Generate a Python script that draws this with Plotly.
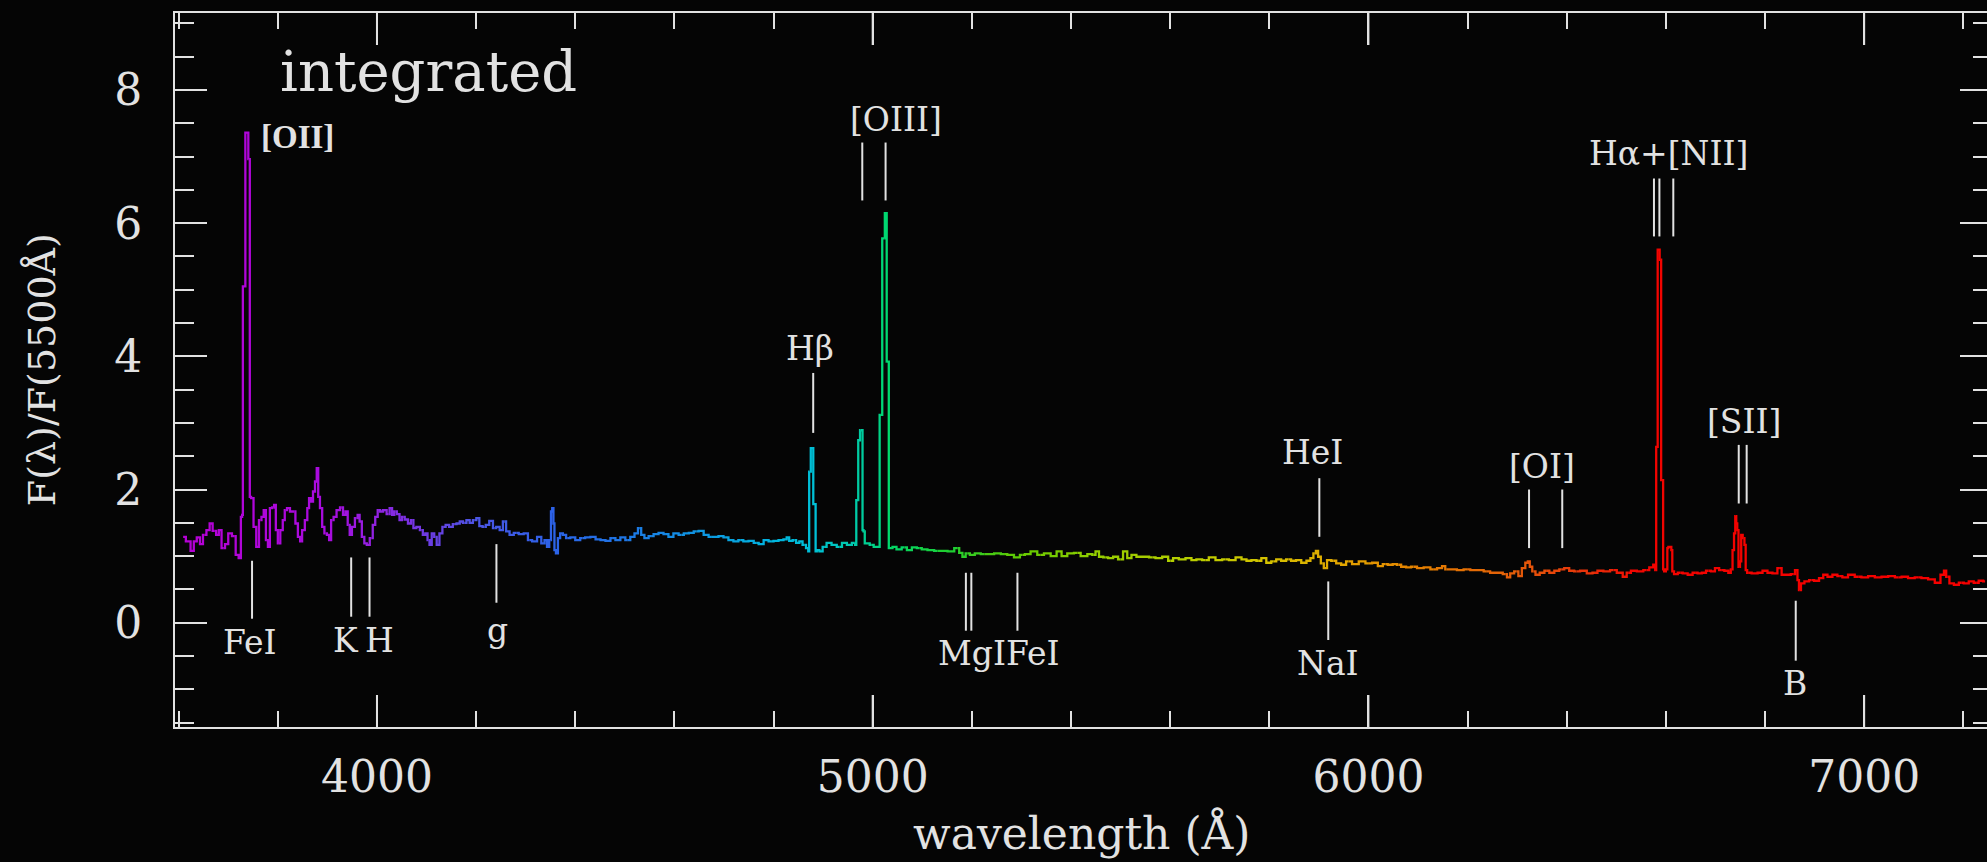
import plotly.graph_objects as go

# ---------------- data ----------------
wavelength = [
    3609, 3620, 3628, 3633, 3640, 3646, 3652, 3660, 3665, 3672, 3679, 3683, 3690, 3697, 3703, 3712,
    3718, 3724, 3727, 3729, 3730, 3734, 3735, 3740, 3741, 3743, 3744, 3748, 3754, 3759, 3765, 3769,
    3774, 3778, 3782, 3786, 3791, 3794, 3798, 3802, 3808, 3812, 3816, 3821, 3828, 3833, 3838, 3843,
    3847, 3851, 3858, 3861, 3865, 3869, 3873, 3877, 3880, 3883, 3887, 3892, 3896, 3902, 3905, 3910,
    3915, 3922, 3929, 3934, 3939, 3943, 3947, 3952, 3959, 3963, 3967, 3972, 3977, 3982, 3989, 3994,
    3999, 4004, 4009, 4016, 4023, 4028, 4033, 4037, 4043, 4048, 4053, 4059, 4066, 4071, 4076, 4083,
    4090, 4095, 4100, 4104, 4108, 4113, 4118, 4123, 4129, 4135, 4142, 4149, 4157, 4164, 4170, 4177,
    4184, 4190, 4197, 4204, 4209, 4217,
    4222, 4231, 4237, 4244, 4251, 4257, 4264, 4271, 4281, 4291, 4301, 4308, 4318, 4328, 4335, 4341,
    4345, 4350, 4352, 4355, 4357, 4359, 4363, 4367, 4372, 4378, 4385, 4395, 4405, 4415, 4425, 4436,
    4446, 4456, 4466, 4476, 4486, 4496, 4506, 4516, 4523, 4530, 4536, 4543, 4553, 4563, 4573, 4583,
    4593, 4603, 4614, 4624, 4634, 4644, 4654, 4664, 4674, 4684, 4694, 4704, 4714, 4724, 4734, 4744,
    4755, 4765, 4775, 4785, 4795, 4805, 4815, 4825,
    4828, 4835, 4842, 4849, 4855, 4862, 4869, 4871, 4872.8, 4874.8, 4875.4, 4879.5, 4880.8, 4884.2,
    4885.5, 4889, 4896, 4902, 4912, 4922, 4933, 4943, 4953, 4963, 4966, 4967.8, 4970.5, 4971.2, 4974,
    4975, 4979, 4980, 4983, 4985, 4990, 4998, 5006, 5013, 5015, 5019, 5019.5, 5024, 5025, 5028,
    5028.5, 5032, 5033, 5037, 5043, 5053, 5064, 5074, 5084, 5094, 5104, 5117, 5131, 5144, 5158, 5171,
    5178, 5184, 5191, 5201, 5211, 5225, 5238, 5252, 5265, 5278, 5292, 5302, 5312, 5325, 5339, 5352,
    5366, 5376, 5386, 5399, 5413, 5426, 5440, 5446,
    5453, 5460, 5470, 5480, 5490, 5500, 5510, 5517, 5527, 5537, 5551, 5564, 5577, 5591, 5601, 5611,
    5624, 5638, 5648, 5658, 5671, 5685, 5698, 5712, 5725, 5739, 5749, 5759, 5769, 5779, 5789, 5799,
    5809, 5819, 5829, 5839, 5849, 5859, 5870, 5880, 5886, 5892, 5896, 5901, 5907, 5913, 5920, 5930,
    5940, 5950, 5960, 5974, 5987, 6001, 6014, 6024, 6034, 6044, 6054, 6061,
    6071, 6081, 6091, 6105, 6118, 6132, 6145, 6152, 6158, 6172, 6185, 6199, 6212, 6226, 6239, 6252,
    6266, 6276, 6283, 6289, 6299, 6306, 6313, 6320, 6323, 6328, 6333, 6341, 6350, 6360, 6370, 6380,
    6390, 6400, 6410, 6420, 6434, 6447, 6457, 6467, 6481, 6494, 6508, 6518, 6524, 6535, 6548, 6561,
    6572, 6577, 6580, 6581, 6583, 6584, 6587, 6588, 6590, 6591, 6594, 6595, 6598, 6602, 6604, 6606,
    6610, 6612, 6614, 6619, 6629, 6639, 6649, 6659, 6669, 6676,
    6686, 6696, 6702, 6713, 6723, 6729, 6733, 6736, 6739, 6741, 6743, 6745, 6748, 6751, 6753, 6757,
    6760, 6762, 6766, 6780, 6790, 6800, 6810, 6820, 6830, 6837, 6847, 6857, 6864, 6867, 6870, 6875,
    6884, 6894, 6904, 6914, 6921, 6931, 6941, 6951, 6961, 6974, 6988, 7001, 7015, 7028, 7042, 7055,
    7069, 7082, 7095, 7109, 7122, 7136, 7149, 7159, 7163, 7168, 7176, 7186, 7196, 7206, 7216, 7226,
    7236, 7244,
]

flux = [
    1.29, 1.22, 1.08, 1.22, 1.28, 1.18, 1.32, 1.39, 1.49, 1.38, 1.32, 1.39, 1.12, 1.18, 1.34, 1.30,
    1.02, 0.97, 1.59, 1.62, 5.05, 5.05, 7.36, 7.36, 6.96, 6.96, 1.89, 1.87, 1.44, 1.14, 1.54, 1.59,
    1.69, 1.24, 1.14, 1.72, 1.73, 1.77, 1.39, 1.19, 1.39, 1.54, 1.69, 1.72, 1.67, 1.67, 1.49, 1.29,
    1.22, 1.39, 1.54, 1.72, 1.87, 1.82, 1.97, 2.12, 2.32, 1.89, 1.72, 1.44, 1.34, 1.32, 1.24, 1.54,
    1.59, 1.69, 1.73, 1.62, 1.67, 1.47, 1.32, 1.44, 1.57, 1.62, 1.52, 1.29, 1.19, 1.17, 1.27, 1.47,
    1.59, 1.69, 1.67, 1.69, 1.63, 1.72, 1.62, 1.67, 1.63, 1.54, 1.59, 1.55, 1.49, 1.54, 1.42, 1.44,
    1.39, 1.32, 1.34, 1.24, 1.17, 1.34, 1.29, 1.17, 1.34, 1.44, 1.47, 1.44, 1.48, 1.49, 1.52, 1.50,
    1.54, 1.50, 1.54, 1.57, 1.45, 1.44,
    1.47, 1.53, 1.42, 1.44, 1.39, 1.52, 1.37, 1.32, 1.35, 1.33, 1.34, 1.24, 1.22, 1.29, 1.19, 1.24,
    1.14, 1.24, 1.67, 1.72, 1.49, 1.09, 1.04, 1.27, 1.34, 1.32, 1.27, 1.28, 1.24, 1.27, 1.28, 1.29,
    1.25, 1.24, 1.23, 1.27, 1.24, 1.28, 1.24, 1.29, 1.34, 1.42, 1.32, 1.27, 1.30, 1.33, 1.35, 1.33,
    1.29, 1.34, 1.32, 1.34, 1.35, 1.37, 1.38, 1.32, 1.29, 1.29, 1.30, 1.28, 1.24, 1.22, 1.24, 1.22,
    1.23, 1.20, 1.18, 1.24, 1.22, 1.23, 1.24, 1.25,
    1.28, 1.23, 1.24, 1.20, 1.22, 1.17, 1.12, 1.07, 2.27, 2.27, 2.62, 2.62, 1.78, 1.78,
    1.07, 1.09, 1.07, 1.14, 1.20, 1.17, 1.14, 1.20, 1.17, 1.20, 1.17, 1.84, 1.84, 2.74, 2.74,
    2.89, 2.89, 1.39, 1.37, 1.19, 1.19, 1.17, 1.14, 1.14, 3.12, 3.12, 5.77, 5.77, 6.15, 6.15,
    3.92, 3.92, 1.12, 1.12, 1.14, 1.10, 1.13, 1.09, 1.13, 1.12, 1.10, 1.09, 1.08, 1.08, 1.07, 1.12,
    1.05, 0.99, 1.04, 1.02, 1.04, 1.03, 1.03, 1.04, 1.03, 1.02, 0.98, 1.02, 1.03, 1.07, 1.02, 1.04,
    1.00, 1.07, 1.00, 1.04, 1.05, 1.00, 1.03, 1.02,
    1.07, 0.99, 0.98, 0.97, 0.99, 0.95, 1.07, 0.97, 1.02, 0.99, 0.99, 0.98, 0.97, 0.99, 0.93, 0.97,
    0.95, 0.97, 0.94, 0.95, 0.94, 0.98, 0.94, 0.95, 0.94, 0.98, 0.95, 0.93, 0.94, 0.93, 0.97, 0.90,
    0.92, 0.95, 0.93, 0.95, 0.93, 0.94, 0.90, 0.93, 0.97, 1.04, 1.08, 0.99, 0.89, 0.82, 0.94, 0.93,
    0.89, 0.87, 0.92, 0.88, 0.92, 0.89, 0.90, 0.85, 0.88, 0.87, 0.88, 0.87,
    0.84, 0.83, 0.84, 0.82, 0.83, 0.80, 0.82, 0.85, 0.80, 0.80, 0.79, 0.80, 0.79, 0.79, 0.77, 0.75,
    0.75, 0.73, 0.68, 0.74, 0.77, 0.70, 0.82, 0.90, 0.92, 0.84, 0.77, 0.72, 0.75, 0.78, 0.75, 0.78,
    0.80, 0.82, 0.78, 0.77, 0.78, 0.74, 0.75, 0.78, 0.77, 0.79, 0.75, 0.69, 0.75, 0.78, 0.77, 0.79,
    0.83, 0.87, 0.79, 2.64, 2.64, 5.60, 5.60, 5.45, 5.45, 2.14, 2.14, 0.80, 0.77, 0.80, 1.12, 1.14,
    1.14, 1.09, 0.77, 0.73, 0.75, 0.74, 0.72, 0.75, 0.74, 0.75,
    0.78, 0.77, 0.82, 0.79, 0.78, 0.75, 0.80, 1.09, 1.34, 1.60, 1.49, 1.39, 0.84, 0.92, 1.32, 1.27,
    1.17, 0.79, 0.75, 0.74, 0.75, 0.78, 0.75, 0.74, 0.82, 0.72, 0.72, 0.73, 0.79, 0.64, 0.49, 0.59,
    0.62, 0.64, 0.63, 0.67, 0.72, 0.69, 0.72, 0.70, 0.68, 0.72, 0.69, 0.68, 0.70, 0.68, 0.69, 0.70,
    0.68, 0.69, 0.67, 0.68, 0.67, 0.65, 0.60, 0.72, 0.78, 0.69, 0.59, 0.57, 0.60, 0.59, 0.62, 0.60,
    0.63, 0.62,
]

# line identifications: tick marks (wavelengths, lower/upper flux of each mark)
mark_names = ["FeI", "K", "H", "g", "Hβ", "[OIII]", "MgI", "FeI", "HeI", "NaI",
              "[OI]", "Hα+[NII]", "[SII]", "B"]
mark_waves = [[3748], [3948], [3985], [4241], [4880], [4979, 5026], [5188, 5199], [5292],
              [5901], [5919], [6324, 6391], [6576, 6587, 6615], [6747, 6763], [6862]]
mark_low = [0.06, 0.09, 0.09, 0.30, 2.85, 6.34, -0.12, -0.12, 1.29, -0.26, 1.12, 5.80, 1.79, -0.57]
mark_high = [0.93, 0.98, 0.98, 1.18, 3.75, 7.21, 0.75, 0.75, 2.17, 0.62, 2.00, 6.67, 2.67, 0.33]

# label texts
label_text = ["FeI", "K", "H", "g", "Hβ", "[OIII]", "MgIFeI", "HeI", "NaI", "[OI]",
              "Hα+[NII]", "[SII]", "B"]
label_wave = [3744, 3937, 4005, 4243, 4874, 5048, 5254, 5887, 5918, 6350, 6606, 6757, 6861]
label_flux = [-0.30, -0.26, -0.26, -0.11, 4.11, 7.56, -0.46, 2.55, -0.61, 2.35, 7.05, 3.02, -0.92]

x_major_ticks = [4000, 5000, 6000, 7000]

# ---------------- style ----------------
BG = "#050505"
INK = "#e2e2e2"
SERIF = "DejaVu Serif"
X_RANGE = [3592.6, 7257.9]
Y_RANGE = [-1.566, 9.155]

color_stops = [
    (3600, (182, 0, 212)), (3900, (168, 12, 222)), (4000, (145, 35, 225)),
    (4100, (110, 60, 228)), (4200, (75, 85, 228)), (4350, (45, 98, 232)),
    (4500, (30, 118, 228)), (4650, (15, 150, 226)), (4800, (0, 180, 222)),
    (4880, (0, 192, 215)), (4970, (0, 202, 165)), (5030, (0, 216, 110)),
    (5150, (30, 206, 50)), (5300, (100, 202, 0)), (5450, (148, 206, 0)),
    (5650, (186, 206, 0)), (5800, (214, 194, 0)), (5950, (226, 165, 0)),
    (6100, (228, 128, 0)), (6300, (228, 92, 10)), (6450, (232, 48, 10)),
    (6550, (242, 4, 0)), (7300, (246, 0, 0)),
]


def color_at(w):
    if w <= color_stops[0][0]:
        c = color_stops[0][1]
    elif w >= color_stops[-1][0]:
        c = color_stops[-1][1]
    else:
        for (w0, c0), (w1, c1) in zip(color_stops[:-1], color_stops[1:]):
            if w0 <= w <= w1:
                t = (w - w0) / (w1 - w0)
                c = tuple(round(a + (b - a) * t) for a, b in zip(c0, c1))
                break
    return "rgb(%d,%d,%d)" % c


fig = go.Figure()

# spectrum drawn in short stepped pieces so its colour follows the wavelength
n = len(wavelength)
i = 0
while i < n - 1:
    j = min(i + 3, n - 1)
    xs = wavelength[i:j + 1]
    ys = flux[i:j + 1]
    fig.add_trace(go.Scatter(
        x=xs, y=ys, mode="lines",
        line=dict(color=color_at((xs[0] + xs[-1]) / 2), width=2.3, shape="hvh"),
        hoverinfo="skip", showlegend=False,
    ))
    i = j

# identification marks
for waves, lo, hi in zip(mark_waves, mark_low, mark_high):
    for w in waves:
        fig.add_shape(type="line", xref="x", yref="y", x0=w, x1=w, y0=lo, y1=hi,
                      line=dict(color=INK, width=2))

# long ticks at the labelled wavelengths (bottom and top frame)
for w in x_major_ticks:
    fig.add_shape(type="line", xref="x", yref="paper", ysizemode="pixel", yanchor=0,
                  x0=w, x1=w, y0=0, y1=32, line=dict(color=INK, width=2))
    fig.add_shape(type="line", xref="x", yref="paper", ysizemode="pixel", yanchor=1,
                  x0=w, x1=w, y0=0, y1=-32, line=dict(color=INK, width=2))

annotations = []
for t, w, f in zip(label_text, label_wave, label_flux):
    annotations.append(dict(text=t, x=w, y=f, xref="x", yref="y", showarrow=False,
                            xanchor="center", yanchor="middle",
                            font=dict(family=SERIF, size=33, color=INK)))

annotations.append(dict(text="<b>[OII]</b>", x=3763, y=7.30, xref="x", yref="y", showarrow=False,
                        xanchor="left", yanchor="middle",
                        font=dict(family="Liberation Serif", size=33, color=INK)))
annotations.append(dict(text="integrated", x=3800, y=8.28, xref="x", yref="y", showarrow=False,
                        xanchor="left", yanchor="middle",
                        font=dict(family=SERIF, size=56, color=INK)))
annotations.append(dict(text="wavelength (Å)", x=0.4992, y=-0.149, xref="paper", yref="paper",
                        showarrow=False, xanchor="center", yanchor="middle",
                        font=dict(family=SERIF, size=44, color=INK)))
annotations.append(dict(text="F(λ)/F(5500Å)", x=-0.0731, y=0.5, xref="paper", yref="paper",
                        showarrow=False, xanchor="center", yanchor="middle", textangle=-90,
                        font=dict(family=SERIF, size=38, color=INK)))

axis_common = dict(
    showgrid=False, zeroline=False, showline=True, linecolor=INK, linewidth=2,
    mirror="ticks", ticks="inside", tickwidth=2, tickcolor=INK, ticklen=32,
    tickfont=dict(family=SERIF, size=44, color=INK), tickformat="d",
)

fig.update_layout(
    width=2000, height=862,
    margin=dict(l=175, r=6, t=13, b=135),
    paper_bgcolor=BG, plot_bgcolor=BG,
    showlegend=False,
    annotations=annotations,
    xaxis=dict(range=X_RANGE, tickmode="array", tickvals=x_major_ticks,
               ticklabelstandoff=10,
               minor=dict(dtick=200, tick0=0, ticks="inside", ticklen=16, tickwidth=2,
                          tickcolor=INK, showgrid=False),
               **axis_common),
    yaxis=dict(range=Y_RANGE, tickmode="linear", tick0=0, dtick=2,
               ticklabelstandoff=22,
               minor=dict(dtick=0.5, tick0=0, ticks="inside", ticklen=19, tickwidth=2,
                          tickcolor=INK, showgrid=False),
               **axis_common),
)

fig.write_html(
    "out.html",
    config={"displayModeBar": False},
    post_script="document.body.style.margin='0';document.body.style.overflow='hidden';"
                "document.body.style.background='#050505';",
)
